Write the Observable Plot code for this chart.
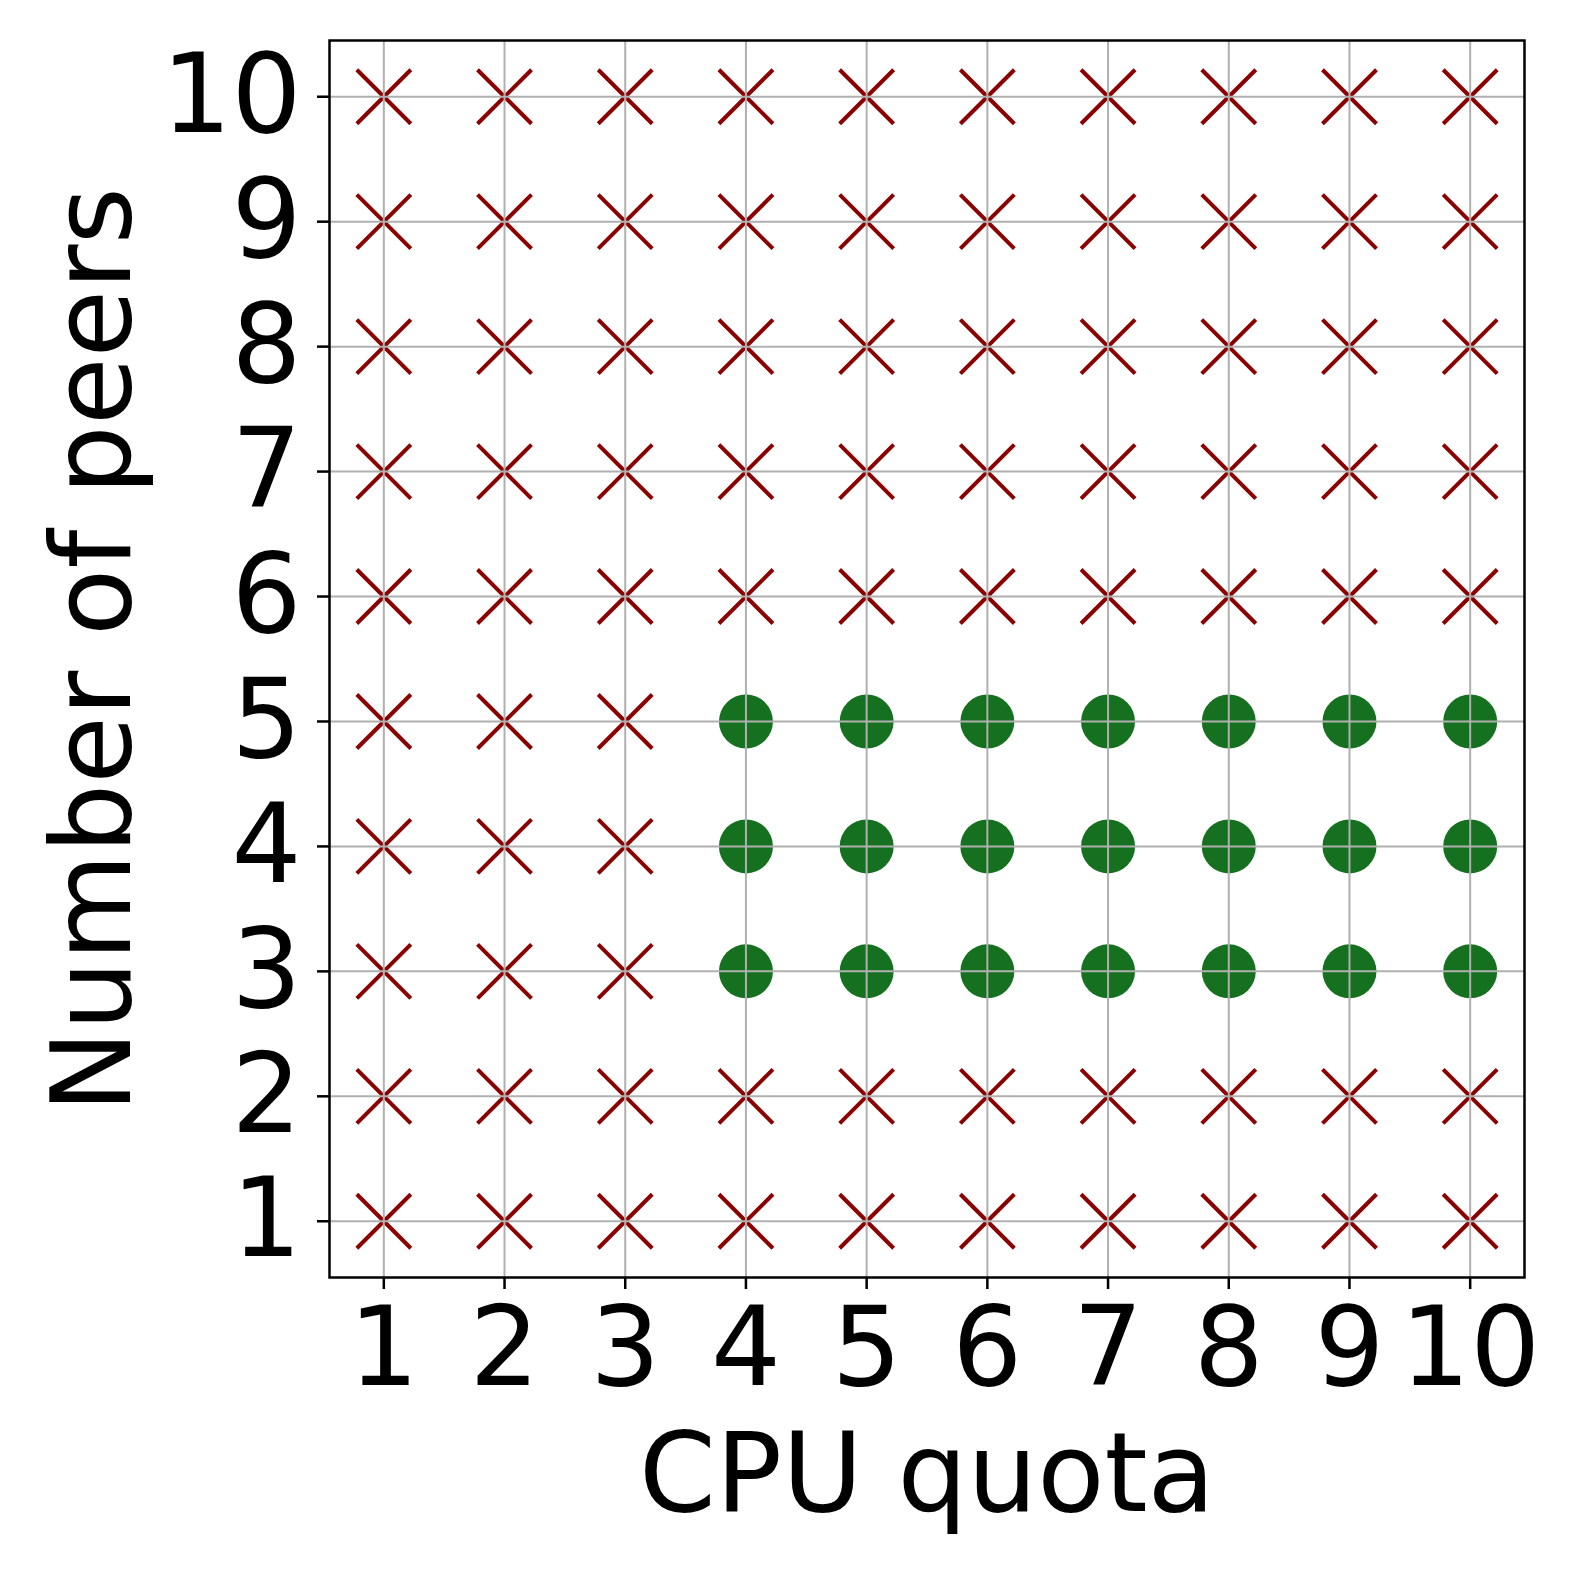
<!DOCTYPE html>
<html>
<head>
<meta charset="utf-8">
<script src="https://cdn.jsdelivr.net/npm/d3@7"></script>
<script src="https://cdn.jsdelivr.net/npm/@observablehq/plot@0.6"></script>
<style>
  html, body { margin: 0; padding: 0; background: #fff; }
  #chart { width: 1578px; height: 1578px; }
</style>
</head>
<body>
<div id="chart"></div>
<script>
// ---- data ----
const cpuQuota = [1, 2, 3, 4, 5, 6, 7, 8, 9, 10];
const numPeers = [1, 2, 3, 4, 5, 6, 7, 8, 9, 10];
// one string per number of peers (1..10), one char per CPU quota (1..10): o = success, x = failure
const outcomeRows = [
  "xxxxxxxxxx", // peers 1
  "xxxxxxxxxx", // peers 2
  "xxxooooooo", // peers 3
  "xxxooooooo", // peers 4
  "xxxooooooo", // peers 5
  "xxxxxxxxxx", // peers 6
  "xxxxxxxxxx", // peers 7
  "xxxxxxxxxx", // peers 8
  "xxxxxxxxxx", // peers 9
  "xxxxxxxxxx"  // peers 10
];
const tickValues = [1, 2, 3, 4, 5, 6, 7, 8, 9, 10];
const xLabel = "CPU quota";
const yLabel = "Number of peers";

// ---- table built from the arrays ----
const cells = [];
numPeers.forEach((p, i) => {
  cpuQuota.forEach((c, j) => {
    cells.push({cpu: c, peers: p, ok: outcomeRows[i][j] === "o"});
  });
});
const success = cells.filter(d => d.ok);
const failure = cells.filter(d => !d.ok);

const crossSymbol = {
  draw(context, size) {
    const h = Math.sqrt(size / Math.PI);
    context.moveTo(-h, -h); context.lineTo(h, h);
    context.moveTo(-h, h); context.lineTo(h, -h);
  }
};

const FONT = "DejaVu Sans";
const FS = 110;

const chart = Plot.plot({
  width: 1578,
  height: 1578,
  marginLeft: 329,
  marginRight: 54,
  marginTop: 40,
  marginBottom: 301,
  style: {fontFamily: FONT, fontSize: FS + "px", background: "#fff", color: "#000"},
  x: {domain: [0.55, 10.45], label: null},
  y: {domain: [0.55, 10.45], label: null},
  marks: [
    Plot.dot(success, {x: "cpu", y: "peers", r: 27, fill: "#15701f", stroke: "none"}),
    Plot.dot(failure, {x: "cpu", y: "peers", r: 27, symbol: crossSymbol, stroke: "#8b0000", strokeWidth: 4, fill: "none"}),
    Plot.gridX(tickValues, {stroke: "#b0b0b0", strokeOpacity: 1, strokeWidth: 2}),
    Plot.gridY(tickValues, {stroke: "#b0b0b0", strokeOpacity: 1, strokeWidth: 2}),
    Plot.axisX(tickValues, {tickSize: 12, tickPadding: 17, strokeWidth: 2.5, fontSize: FS, fontFamily: FONT, label: null, tickFormat: d => String(d)}),
    Plot.axisY(tickValues, {tickSize: 12, tickPadding: 16, strokeWidth: 2.5, fontSize: FS, fontFamily: FONT, label: null, tickFormat: d => String(d)}),
    Plot.frame({stroke: "#000", strokeWidth: 2.5}),
    Plot.text([xLabel], {frameAnchor: "bottom", textAnchor: "middle", lineAnchor: "middle", dy: 198, fontSize: FS, fontFamily: FONT, fill: "#000"}),
    Plot.text([yLabel], {frameAnchor: "left", textAnchor: "middle", lineAnchor: "middle", rotate: -90, dx: -235, dy: -9, fontSize: FS, fontFamily: FONT, fill: "#000"})
  ]
});
document.getElementById("chart").appendChild(chart);
</script>
</body>
</html>
